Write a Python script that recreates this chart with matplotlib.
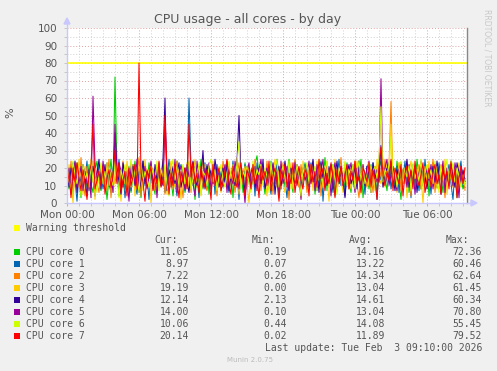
import numpy as np
import matplotlib
matplotlib.use('Agg')
import matplotlib.pyplot as plt
from matplotlib.patches import Rectangle

# ---------------- data ----------------
title = 'CPU usage - all cores - by day'
tick_hours = [0, 6, 12, 18, 24, 30]
tick_labels = ['Mon 00:00', 'Mon 06:00', 'Mon 12:00', 'Mon 18:00', 'Tue 00:00', 'Tue 06:00']
warning = 80

names = ['CPU core 0', 'CPU core 1', 'CPU core 2', 'CPU core 3',
         'CPU core 4', 'CPU core 5', 'CPU core 6', 'CPU core 7']
colors = ['#00CC00', '#0066B3', '#FF8000', '#FFCC00',
          '#330099', '#990099', '#CCFF00', '#FF0000']
cur = ['11.05', '8.97', '7.22', '19.19', '12.14', '14.00', '10.06', '20.14']
mins = ['0.19', '0.07', '0.26', '0.00', '2.13', '0.10', '0.44', '0.02']
avgs = ['14.16', '13.22', '14.34', '13.04', '14.61', '13.04', '14.08', '11.89']
maxs = ['72.36', '60.46', '62.64', '61.45', '60.34', '70.80', '55.45', '79.52']

# 10-minute samples (200 points per core)
core0 = [14, 8, 21, 5, 17, 23, 12, 3, 19, 15, 9, 22, 11, 6, 18, 24, 13, 7, 20, 16,
         2, 14, 25, 10, 72, 19, 4, 17, 22, 8, 13, 21, 6, 15, 24, 11, 18, 3, 20, 14,
         9, 23, 16, 12, 5, 19, 22, 10, 15, 7, 15, 21, 13, 4, 18, 24, 9, 16, 20, 6,
         14, 23, 11, 17, 2, 19, 12, 25, 8, 15, 21, 5, 18, 13, 22, 10, 16, 7, 20, 14,
         24, 9, 17, 3, 21, 12, 15, 19, 6, 23, 11, 18, 8, 14, 22, 27, 16, 20, 13, 5,
         19, 11, 24, 7, 16, 21, 3, 13, 20, 9, 17, 25, 12, 6, 22, 15, 10, 19, 14, 23,
         8, 18, 12, 24, 5, 16, 21, 10, 14, 26, 7, 19, 13, 22, 4, 17, 11, 20, 15, 9,
         23, 13, 6, 18, 21, 10, 16, 25, 3, 14, 19, 8, 22, 12, 17, 5, 20, 24, 11, 15,
         7, 21, 14, 18, 9, 24, 12, 2, 19, 16, 22, 6, 13, 20, 10, 25, 15, 8, 18, 11,
         21, 4, 17, 23, 13, 9, 20, 15, 6, 22, 12, 18, 24, 10, 16, 3, 19, 14, 8, 11.05]
core1 = [10, 19, 6, 23, 13, 1, 17, 21, 9, 14, 24, 7, 16, 20, 4, 12, 22, 18, 8, 15,
         23, 11, 6, 19, 30, 13, 25, 9, 17, 3, 14, 20, 7, 22, 12, 5, 18, 15, 24, 10,
         16, 2, 21, 13, 19, 8, 23, 11, 17, 6, 14, 25, 9, 20, 12, 4, 18, 22, 15, 7,
         13, 60, 21, 10, 24, 16, 3, 19, 11, 23, 8, 17, 14, 20, 5, 22, 12, 18, 9, 15,
         21, 6, 13, 24, 10, 17, 2, 19, 14, 22, 8, 16, 11, 20, 4, 23, 13, 18, 15, 9,
         22, 14, 5, 18, 11, 25, 16, 8, 20, 13, 3, 21, 17, 10, 24, 12, 19, 6, 15, 22,
         9, 17, 23, 12, 20, 7, 14, 24, 1, 18, 11, 21, 15, 6, 19, 13, 25, 10, 16, 4,
         20, 12, 17, 22, 8, 15, 24, 11, 18, 5, 21, 14, 9, 23, 16, 2, 19, 13, 20, 10,
         15, 23, 8, 17, 12, 21, 6, 19, 14, 24, 10, 18, 3, 22, 13, 16, 7, 20, 11, 25,
         12, 18, 5, 21, 15, 9, 23, 14, 19, 7, 16, 22, 11, 2, 20, 13, 17, 24, 10, 8.97]
core2 = [18, 11, 24, 7, 15, 20, 9, 26, 13, 4, 21, 16, 8, 19, 23, 12, 6, 17, 22, 10,
         14, 25, 3, 18, 11, 21, 16, 8, 24, 13, 19, 6, 15, 22, 10, 17, 26, 4, 20, 12,
         9, 18, 23, 14, 7, 21, 11, 16, 25, 5, 19, 13, 22, 8, 17, 24, 10, 15, 3, 20,
         12, 18, 6, 23, 14, 9, 21, 16, 25, 11, 7, 19, 13, 22, 15, 4, 18, 10, 24, 17,
         8, 22, 12, 20, 6, 15, 23, 11, 19, 3, 16, 21, 9, 14, 25, 12, 18, 7, 20, 13,
         24, 10, 17, 5, 21, 14, 19, 8, 23, 12, 16, 2, 20, 11, 25, 15, 9, 22, 13, 18,
         6, 19, 14, 23, 10, 17, 21, 4, 16, 12, 24, 9, 18, 13, 20, 7, 15, 26, 11, 22,
         13, 8, 20, 16, 24, 11, 3, 18, 21, 14, 9, 23, 17, 6, 19, 12, 22, 15, 10, 25,
         16, 21, 58, 9, 18, 13, 23, 7, 19, 11, 24, 15, 4, 20, 14, 17, 22, 8, 12, 21,
         10, 18, 14, 25, 6, 19, 12, 22, 16, 3, 20, 13, 24, 9, 17, 11, 21, 15, 18, 7.22]
core3 = [7, 22, 14, 0, 19, 11, 25, 16, 5, 21, 13, 18, 9, 24, 2, 17, 12, 20, 15, 8,
         23, 10, 19, 6, 16, 22, 13, 1, 18, 11, 24, 15, 9, 20, 4, 14, 21, 17, 7, 25,
         12, 19, 0, 20, 16, 8, 22, 14, 11, 20, 5, 18, 24, 13, 9, 21, 16, 2, 19, 12,
         23, 7, 17, 14, 25, 10, 20, 4, 15, 22, 12, 18, 8, 24, 16, 11, 21, 6, 19, 14,
         10, 17, 9, 22, 13, 26, 5, 18, 15, 21, 11, 0, 19, 14, 23, 7, 17, 12, 20, 16,
         4, 21, 13, 18, 25, 9, 15, 22, 11, 6, 19, 14, 23, 8, 17, 20, 12, 3, 24, 16,
         19, 11, 22, 7, 15, 24, 13, 18, 9, 21, 16, 1, 20, 12, 25, 10, 17, 14, 6, 23,
         15, 20, 8, 17, 12, 24, 19, 5, 22, 13, 16, 10, 21, 18, 7, 25, 14, 11, 20, 9,
         22, 14, 45, 12, 19, 6, 23, 16, 11, 20, 3, 17, 24, 13, 18, 9, 21, 15, 0, 19,
         13, 24, 10, 17, 21, 8, 15, 20, 12, 25, 5, 18, 14, 22, 9, 16, 23, 11, 17, 19.19]
core4 = [16, 9, 20, 13, 24, 6, 18, 11, 22, 15, 4, 19, 8, 21, 14, 17, 25, 10, 13, 22,
         7, 18, 15, 11, 40, 20, 12, 5, 23, 16, 9, 19, 14, 21, 10, 17, 6, 13, 24, 11,
         18, 15, 20, 8, 22, 13, 16, 10, 25, 60, 7, 19, 14, 21, 11, 17, 23, 9, 15, 20,
         12, 6, 18, 24, 13, 10, 21, 16, 30, 8, 22, 14, 19, 11, 25, 17, 9, 15, 20, 12,
         23, 7, 16, 19, 10, 24, 50, 14, 18, 6, 21, 13, 17, 22, 9, 15, 20, 11, 25, 8,
         14, 19, 12, 23, 5, 17, 21, 10, 16, 24, 13, 7, 20, 15, 11, 22, 18, 4, 19, 14,
         21, 9, 16, 25, 12, 18, 6, 23, 14, 20, 10, 17, 22, 8, 15, 24, 11, 19, 13, 3,
         17, 22, 11, 15, 20, 8, 24, 13, 18, 10, 21, 16, 6, 23, 14, 19, 12, 33, 9, 17,
         20, 12, 24, 15, 7, 19, 14, 22, 11, 16, 25, 9, 18, 13, 21, 6, 17, 23, 10, 15,
         8, 19, 14, 21, 12, 24, 16, 5, 20, 13, 18, 10, 22, 15, 9, 23, 17, 11, 19, 12.14]
core5 = [12, 20, 5, 17, 23, 9, 14, 21, 7, 18, 11, 16, 3, 61, 22, 13, 19, 8, 24, 15,
         10, 21, 17, 6, 45, 12, 23, 18, 9, 20, 14, 1, 22, 16, 11, 25, 7, 19, 13, 21,
         8, 15, 24, 12, 18, 3, 20, 14, 10, 45, 16, 9, 19, 12, 25, 6, 17, 21, 13, 8,
         22, 15, 19, 11, 4, 24, 14, 18, 9, 20, 13, 23, 7, 16, 21, 12, 18, 10, 15, 22,
         6, 19, 14, 11, 24, 17, 8, 20, 13, 0, 18, 23, 10, 16, 21, 7, 19, 25, 12, 17,
         20, 9, 15, 22, 13, 18, 5, 24, 11, 16, 21, 8, 19, 14, 23, 10, 17, 2, 20, 13,
         16, 24, 11, 19, 7, 22, 14, 18, 25, 9, 13, 20, 4, 17, 23, 12, 15, 21, 10, 18,
         11, 17, 23, 14, 6, 20, 16, 9, 22, 13, 19, 24, 8, 15, 21, 12, 18, 71, 14, 20,
         25, 10, 16, 21, 13, 7, 19, 23, 12, 17, 9, 22, 15, 20, 5, 18, 14, 24, 11, 16,
         19, 13, 22, 8, 17, 21, 11, 15, 24, 6, 20, 14, 18, 10, 23, 16, 3, 21, 12, 14.00]
core6 = [21, 13, 8, 24, 16, 11, 19, 4, 22, 14, 17, 9, 25, 12, 20, 6, 15, 23, 11, 18,
         7, 21, 14, 10, 24, 17, 3, 19, 13, 22, 8, 16, 25, 11, 20, 15, 6, 23, 12, 18,
         14, 9, 21, 17, 12, 24, 7, 19, 15, 22, 11, 4, 18, 25, 13, 20, 9, 16, 22, 11,
         17, 24, 8, 14, 20, 13, 23, 5, 18, 16, 10, 21, 25, 12, 19, 7, 15, 22, 13, 9,
         17, 24, 14, 20, 12, 23, 35, 8, 18, 15, 21, 11, 6, 24, 13, 19, 16, 22, 10, 20,
         15, 6, 23, 12, 19, 25, 9, 17, 21, 14, 11, 24, 8, 18, 13, 22, 16, 4, 20, 15,
         23, 11, 18, 14, 21, 7, 25, 16, 12, 19, 24, 9, 15, 22, 13, 5, 20, 17, 11, 24,
         10, 19, 15, 22, 8, 17, 24, 13, 20, 11, 16, 23, 6, 18, 21, 14, 25, 55, 12, 19,
         16, 22, 38, 13, 20, 9, 17, 24, 11, 18, 15, 21, 7, 23, 14, 19, 12, 25, 8, 17,
         22, 14, 19, 11, 24, 16, 6, 21, 13, 18, 25, 10, 17, 23, 12, 20, 15, 9, 16, 10.06]
core7 = [9, 17, 3, 20, 12, 23, 15, 7, 19, 11, 2, 16, 22, 45, 8, 13, 18, 10, 21, 5,
         14, 19, 9, 16, 30, 11, 23, 6, 13, 18, 4, 20, 10, 15, 22, 8, 80, 17, 12, 1,
         19, 14, 21, 7, 16, 11, 24, 9, 13, 50, 20, 5, 17, 10, 22, 14, 3, 18, 12, 20,
         8, 45, 15, 23, 11, 17, 6, 21, 13, 9, 19, 14, 2, 22, 10, 16, 20, 7, 12, 18,
         25, 11, 5, 21, 14, 9, 17, 23, 12, 4, 19, 15, 8, 22, 11, 16, 3, 21, 13, 18,
         10, 24, 7, 16, 20, 12, 1, 19, 14, 22, 9, 17, 11, 23, 6, 15, 21, 13, 8, 19,
         16, 4, 22, 12, 18, 9, 25, 14, 20, 7, 17, 11, 23, 15, 3, 19, 12, 21, 10, 16,
         22, 8, 18, 13, 24, 11, 15, 6, 20, 17, 12, 23, 9, 19, 14, 2, 21, 32, 16, 10,
         18, 13, 25, 7, 20, 15, 11, 22, 4, 17, 21, 12, 19, 8, 24, 14, 10, 16, 23, 6,
         13, 20, 9, 17, 22, 11, 16, 5, 21, 14, 18, 8, 23, 12, 19, 3, 15, 21, 11, 20.14]
cores = [core0, core1, core2, core3, core4, core5, core6, core7]

# ---------------- figure ----------------
W, H = 497, 371
fig = plt.figure(figsize=(W / 100, H / 100), dpi=100, facecolor='#F0F0F0')


def fx(px):
    return px / W


def fy(py):
    return 1 - py / H


x0, x1, y0, y1 = 67, 467, 28, 203
ax = fig.add_axes([fx(x0), fy(y1), fx(x1) - fx(x0), fy(y0) - fy(y1)])
ax.set_facecolor('white')

xmax = 400 * 5 / 60.0  # 400 px, 5 minutes per px

# grid: grey minor, red major
for h in range(0, 34):
    c = '#E0A0A0' if h % 6 == 0 else '#D0D0D0'
    ax.axvline(h, color=c, lw=0.7, ls=(0, (1, 2)), zorder=0)
for v in range(0, 101, 5):
    c = '#E0A0A0' if v % 10 == 0 else '#D0D0D0'
    ax.axhline(v, color=c, lw=0.7, ls=(0, (1, 2)), zorder=0)

ax.axhline(warning, color='#FFFF00', lw=1.2, zorder=1)

for vals, col in zip(cores, colors):
    hours = np.arange(len(vals)) / 6.0
    ax.plot(hours, vals, color=col, lw=0.75, zorder=2)

ax.set_xlim(0, xmax)
ax.set_ylim(0, 100)
for s in ['top', 'left', 'bottom']:
    ax.spines[s].set_visible(False)
ax.spines['right'].set_color('#888888')
ax.spines['right'].set_linewidth(1)

ax.set_xticks(tick_hours)
ax.set_xticklabels(tick_labels)
ax.set_xticks(range(0, 34), minor=True)
ax.set_yticks(range(0, 101, 10))
ax.set_yticks(range(0, 101, 5), minor=True)
ax.tick_params(axis='both', which='both', colors='#555555', labelsize=7.5,
               length=2, width=0.6)
ax.tick_params(axis='x', which='major', color='#E09090', pad=3)
ax.tick_params(axis='x', which='minor', color='#C0C0C0')
ax.tick_params(axis='y', which='both', color='#C0C0C0', pad=5)

# axis lines with arrows
fig.add_artist(plt.Line2D([fx(x0), fx(x0)], [fy(y1), fy(y0 - 4)], color='#C8C8FF', lw=1))
fig.add_artist(plt.Line2D([fx(x0), fx(x1 + 4)], [fy(y1), fy(y1)], color='#C8C8FF', lw=1))
fig.add_artist(plt.Polygon([[fx(x0 - 3), fy(y0 - 4)], [fx(x0 + 3), fy(y0 - 4)], [fx(x0), fy(y0 - 10)]],
                           closed=True, color='#C8C8FF'))
fig.add_artist(plt.Polygon([[fx(x1 + 4), fy(y1 - 3)], [fx(x1 + 4), fy(y1 + 3)], [fx(x1 + 10), fy(y1)]],
                           closed=True, color='#C8C8FF'))

# texts
fig.text(fx(248), fy(19), title, ha='center', va='center', fontsize=9, color='#555555')
fig.text(fx(10), fy(113), '%', ha='center', va='center', rotation=90, fontsize=8, color='#555555')
fig.text(fx(487), fy(58), 'RRDTOOL / TOBI OETIKER', ha='center', va='center', rotation=270,
         fontsize=5.5, color='#C8C8C8')
fig.text(fx(250), fy(360), 'Munin 2.0.75', ha='center', va='center', fontsize=5, color='#BBBBBB')

mono = 'DejaVu Sans Mono'
tc = '#555555'
fs = 7


def square(px, py, col):
    fig.add_artist(Rectangle((fx(px), fy(py + 3)), fx(6), 6 / H, transform=fig.transFigure,
                             facecolor=col, edgecolor='none'))


square(14, 228, '#FFFF00')
fig.text(fx(26), fy(228), 'Warning threshold', family=mono, fontsize=fs, color=tc, va='center')
fig.text(fx(154), fy(240), 'Cur:', family=mono, fontsize=fs, color=tc, va='center')
fig.text(fx(252), fy(240), 'Min:', family=mono, fontsize=fs, color=tc, va='center')
fig.text(fx(349), fy(240), 'Avg:', family=mono, fontsize=fs, color=tc, va='center')
fig.text(fx(446), fy(240), 'Max:', family=mono, fontsize=fs, color=tc, va='center')
for i in range(len(names)):
    y = 252 + 12 * i
    square(14, y, colors[i])
    fig.text(fx(26), fy(y), names[i], family=mono, fontsize=fs, color=tc, va='center')
    fig.text(fx(189), fy(y), cur[i], family=mono, fontsize=fs, color=tc, va='center', ha='right')
    fig.text(fx(287), fy(y), mins[i], family=mono, fontsize=fs, color=tc, va='center', ha='right')
    fig.text(fx(385), fy(y), avgs[i], family=mono, fontsize=fs, color=tc, va='center', ha='right')
    fig.text(fx(482), fy(y), maxs[i], family=mono, fontsize=fs, color=tc, va='center', ha='right')
fig.text(fx(482), fy(348), 'Last update: Tue Feb  3 09:10:00 2026', family=mono, fontsize=fs,
         color=tc, va='center', ha='right')

fig.savefig('out.png', dpi=100, facecolor=fig.get_facecolor())
